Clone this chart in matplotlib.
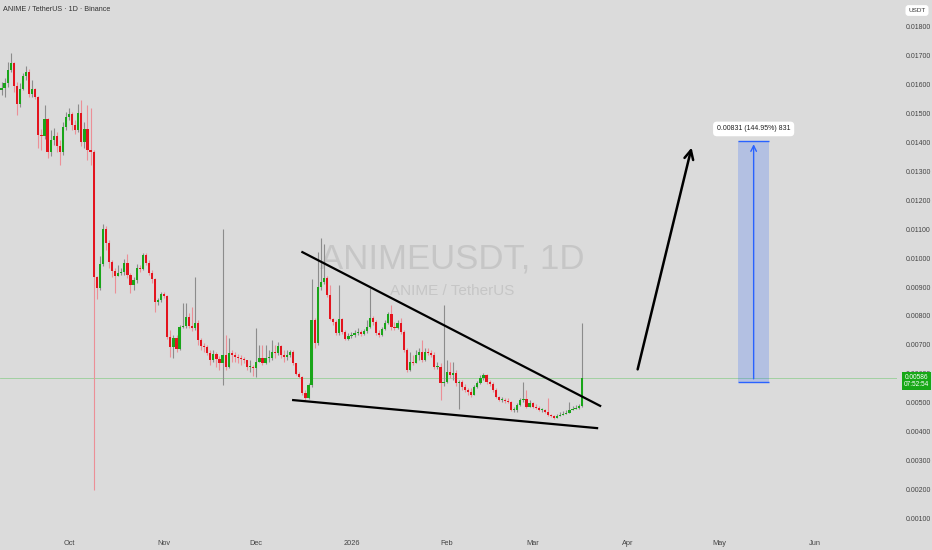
import numpy as np
import pandas as pd
import matplotlib
matplotlib.use('Agg')
import matplotlib.pyplot as plt
import matplotlib.dates as mdates

plt.rcParams['font.family'] = ['Liberation Sans', 'DejaVu Sans']

# daily candles, prices in 1e-5 USDT, last candle = 2026-03-17
close = [1582, 1589, 1606, 1651, 1675, 1596, 1534, 1586, 1630, 1644,
         1568, 1586, 1558, 1426, 1423, 1482, 1367, 1409, 1423, 1388,
         1367, 1454, 1489, 1499, 1461, 1444, 1502, 1402, 1447, 1374,
         1367, 935, 897, 980, 1101, 1053, 987, 956, 938, 949,
         952, 983, 942, 907, 925, 966, 963, 1011, 983, 949,
         928, 849, 855, 876, 869, 727, 693, 724, 686, 762,
         765, 797, 765, 759, 776, 717, 696, 693, 672, 648,
         669, 651, 637, 665, 624, 672, 665, 658, 655, 651,
         648, 624, 624, 620, 641, 655, 637, 655, 655, 676,
         672, 696, 665, 658, 665, 676, 637, 599, 589, 534,
         516, 561, 786, 707, 900, 918, 932, 873, 790, 779,
         741, 790, 745, 721, 731, 734, 741, 745, 738, 748,
         762, 793, 779, 741, 734, 755, 776, 807, 762, 759,
         776, 745, 682, 613, 641, 637, 665, 676, 648, 676,
         672, 665, 624, 624, 568, 572, 606, 596, 603, 568,
         572, 554, 544, 537, 527, 554, 568, 586, 596, 572,
         565, 544, 520, 509, 509, 506, 502, 475, 475, 492,
         509, 513, 485, 499, 485, 482, 475, 475, 468, 458,
         454, 447, 454, 458, 461, 464, 475, 478, 482, 489,
         586]
high = [1624, 1610, 1624, 1679, 1710, 1679, 1610, 1606, 1641, 1665,
        1655, 1617, 1589, 1561, 1447, 1530, 1485, 1444, 1451, 1437,
        1409, 1471, 1506, 1520, 1506, 1478, 1534, 1547, 1471, 1530,
        1520, 1374, 938, 1008, 1118, 1111, 1063, 994, 966, 977,
        966, 997, 1015, 949, 935, 980, 977, 1018, 1018, 994,
        959, 932, 862, 883, 883, 873, 752, 734, 734, 769,
        845, 845, 810, 831, 935, 786, 724, 707, 700, 682,
        682, 676, 662, 1101, 734, 724, 682, 676, 669, 665,
        658, 648, 648, 631, 759, 700, 700, 700, 682, 717,
        700, 710, 700, 682, 682, 682, 682, 637, 606, 592,
        544, 568, 928, 793, 1021, 1070, 1049, 938, 907, 793,
        786, 907, 793, 752, 741, 745, 752, 759, 752, 755,
        786, 897, 800, 786, 752, 762, 786, 814, 838, 779,
        786, 793, 752, 689, 676, 665, 682, 689, 717, 689,
        689, 682, 676, 641, 637, 838, 648, 641, 641, 613,
        579, 579, 565, 551, 551, 561, 575, 596, 603, 599,
        579, 572, 551, 523, 520, 516, 516, 506, 485, 499,
        516, 572, 544, 509, 502, 496, 489, 482, 478, 516,
        461, 458, 461, 468, 471, 475, 502, 489, 492, 496,
        776]
low = [1554, 1565, 1558, 1592, 1644, 1575, 1496, 1523, 1582, 1617,
       1558, 1558, 1551, 1381, 1374, 1412, 1347, 1354, 1392, 1367,
       1323, 1357, 1444, 1478, 1444, 1430, 1437, 1388, 1381, 1340,
       1323, 198, 859, 890, 973, 1028, 966, 935, 880, 938,
       942, 942, 932, 880, 890, 914, 952, 959, 977, 942,
       914, 814, 838, 849, 862, 721, 658, 655, 676, 682,
       759, 759, 759, 748, 752, 700, 682, 676, 665, 631,
       641, 624, 613, 561, 613, 620, 641, 641, 637, 631,
       637, 613, 606, 592, 589, 641, 631, 634, 641, 648,
       655, 665, 655, 641, 648, 658, 631, 596, 586, 527,
       509, 513, 554, 689, 700, 890, 911, 866, 786, 769,
       734, 734, 738, 717, 717, 724, 727, 734, 731, 734,
       741, 759, 769, 734, 727, 731, 752, 772, 752, 752,
       755, 738, 676, 606, 610, 631, 641, 648, 641, 644,
       665, 658, 617, 617, 509, 558, 568, 586, 579, 558,
       478, 544, 537, 527, 520, 527, 551, 565, 579, 565,
       558, 537, 516, 506, 502, 499, 499, 471, 468, 468,
       489, 502, 482, 492, 482, 478, 471, 468, 464, 454,
       451, 444, 447, 454, 458, 461, 464, 475, 478, 478,
       485]
first_open = 1554

# drawings
upper_line_dates = ['2025-12-16', '2026-03-23']
upper_line_prices = [0.01021, 0.00489]
lower_line_dates = ['2025-12-13', '2026-03-22']
lower_line_prices = [0.00509, 0.00412]
arrow_dates = ['2026-04-04', '2026-04-22']
arrow_prices = [0.00606, 0.01392]
target_dates = ['2026-05-07', '2026-05-17']
target_entry = 0.00573
target_gain = 0.00831
target_label = '0.00831 (144.95%) 831'

month_ticks = ['2025-10-01', '2025-11-01', '2025-12-01', '2026-01-01', '2026-02-01',
               '2026-03-01', '2026-04-01', '2026-05-01', '2026-06-01']
month_labels = ['Oct', 'Nov', 'Dec', '2026', 'Feb', 'Mar', 'Apr', 'May', 'Jun']
price_ticks = [0.001, 0.002, 0.003, 0.004, 0.005, 0.006, 0.007, 0.008, 0.009,
               0.010, 0.011, 0.012, 0.013, 0.014, 0.015, 0.016, 0.017, 0.018]

c = np.array(close) / 1e5
h = np.array(high) / 1e5
l = np.array(low) / 1e5
o = np.r_[first_open, close[:-1]] / 1e5   # crypto daily candles open at previous close
h = np.maximum(h, np.maximum(o, c))
l = np.minimum(l, np.minimum(o, c))

dates = pd.date_range(end='2026-03-17', periods=len(c))
x = mdates.date2num(dates)
up = c >= o

bg = '#dbdbdb'
green = '#19a519'
red = '#e3141e'

fig = plt.figure(figsize=(9.32, 5.5), dpi=100, facecolor=bg)
ax = fig.add_axes([0, 20 / 550, 897 / 932, 530 / 550])
ax.set_facecolor(bg)

oct1 = mdates.date2num(pd.Timestamp('2025-10-01'))
ax.set_xlim(oct1 - 22.5, oct1 + 269.7)
ax.set_ylim(0.000595, 0.018934)

# watermark
ax.text(0.504, 0.494, 'ANIMEUSDT, 1D', transform=ax.transAxes, ha='center', va='baseline',
        fontsize=25, color='#c6c6c6', zorder=0)
ax.text(0.504, 0.443, 'ANIME / TetherUS', transform=ax.transAxes, ha='center', va='baseline',
        fontsize=11, color='#c6c6c6', zorder=0)

# candles
ax.vlines(x[up], l[up], h[up], color='#8c8c8c', lw=0.8, zorder=2)
ax.vlines(x[~up], l[~up], h[~up], color='#ec8f96', lw=0.8, zorder=2)
body = np.maximum(np.abs(c - o), 0.00003)
ax.bar(x[up], body[up], bottom=np.minimum(o, c)[up], width=0.72, color=green, zorder=3)
ax.bar(x[~up], body[~up], bottom=np.minimum(o, c)[~up], width=0.72, color=red, zorder=3)

# last price line
ax.axhline(c[-1], color='#97cf97', lw=0.6, zorder=1)

# wedge lines
ax.plot(mdates.date2num(pd.to_datetime(upper_line_dates)), upper_line_prices, color='black', lw=1.6, zorder=4)
ax.plot(mdates.date2num(pd.to_datetime(lower_line_dates)), lower_line_prices, color='black', lw=1.6, zorder=4)

# breakout arrow
ad = mdates.date2num(pd.to_datetime(arrow_dates))
ax.annotate('', xy=(ad[1], arrow_prices[1]), xytext=(ad[0], arrow_prices[0]),
            arrowprops=dict(arrowstyle='->', color='black', lw=1.8, mutation_scale=16), zorder=4)

# target box
td = mdates.date2num(pd.to_datetime(target_dates))
top = target_entry + target_gain
ax.fill_between(td, target_entry, top, color='#2962ff', alpha=0.22, lw=0, zorder=2)
ax.hlines([target_entry, top], td[0], td[1], color='#2962ff', lw=1, zorder=3)
mid = td.mean()
ax.annotate('', xy=(mid, top), xytext=(mid, target_entry),
            arrowprops=dict(arrowstyle='->', color='#2962ff', lw=1, mutation_scale=10), zorder=3)
ax.annotate(target_label, xy=(mid, top), xytext=(0, 9), textcoords='offset points',
            ha='center', va='center', fontsize=5, color='#222',
            bbox=dict(boxstyle='round,pad=0.55', fc='white', ec='none'), zorder=5)

# axes
ax.set_xticks(mdates.date2num(pd.to_datetime(month_ticks)))
ax.set_xticklabels(month_labels)
ax.set_yticks(price_ticks)
ax.set_yticklabels([f'{v:.5f}' for v in price_ticks])
ax.yaxis.tick_right()
ax.tick_params(axis='y', length=0, pad=6, labelsize=5, labelcolor='#444')
ax.tick_params(axis='x', length=0, pad=7, labelsize=5.3, labelcolor='#444')
for s in ax.spines.values():
    s.set_visible(False)

fig.text(3 / 932, 1 - 11 / 550, 'ANIME / TetherUS · 1D · Binance', va='baseline',
         fontsize=5.2, color='#333')
fig.text(917 / 932, 1 - 10.5 / 550, 'USDT', ha='center', va='center', fontsize=4.6, color='#333',
         bbox=dict(boxstyle='round,pad=0.45', fc='white', ec='none'))
fig.text(916.5 / 932, 1 - 381 / 550, f'{c[-1]:.5f}\n07:52:54', ha='center', va='center',
         fontsize=4.7, color='white', linespacing=1.1,
         bbox=dict(boxstyle='square,pad=0.3', fc='#17a817', ec='none'))

fig.savefig('out.png', dpi=100, facecolor=bg)
